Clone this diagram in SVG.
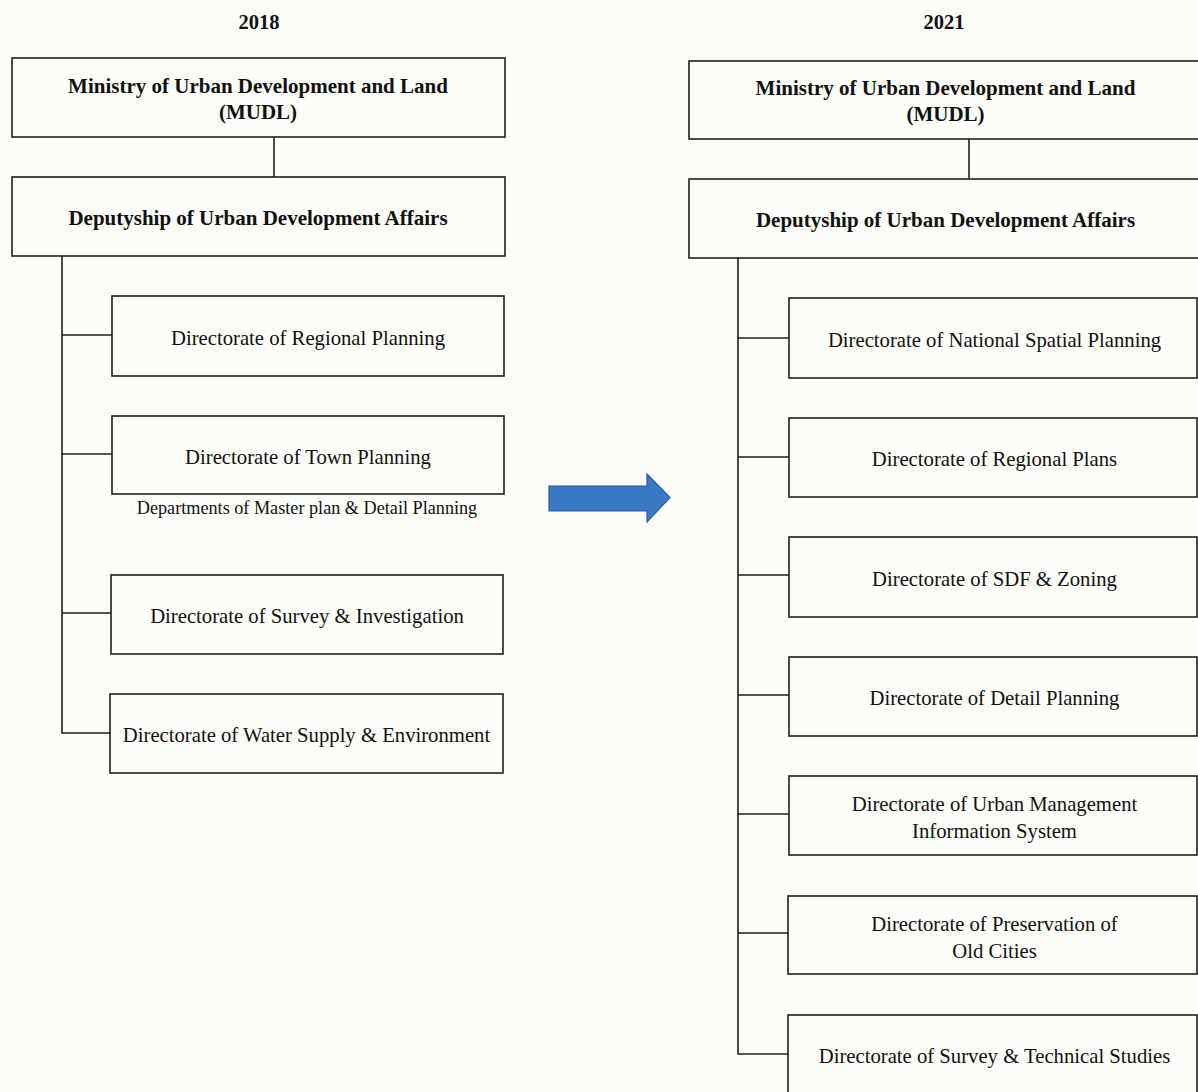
<svg xmlns="http://www.w3.org/2000/svg" width="1198" height="1092" viewBox="0 0 1198 1092">
<style>
.box{fill:none;stroke:#1e1e1e;stroke-width:1.6}
.ln{fill:none;stroke:#1e1e1e;stroke-width:1.6}
.h{font-family:"Liberation Serif","Times New Roman",serif;font-weight:bold;font-size:21px;fill:#111;text-anchor:middle}
.t{font-family:"Liberation Serif","Times New Roman",serif;font-size:20.7px;fill:#111;text-anchor:middle}
.s{font-family:"Liberation Serif","Times New Roman",serif;font-size:18.2px;fill:#111;text-anchor:middle}
</style>
<rect x="0" y="0" width="1198" height="1092" fill="#fcfcf8"/>
<text class="h" x="259" y="29" style="font-size:20.5px">2018</text>
<text class="h" x="944" y="29" style="font-size:20.5px">2021</text>
<g id="connectors">
<line class="ln" x1="274" y1="137" x2="274" y2="177"/>
<polyline class="ln" points="62,256 62,733 111,733"/>
<line class="ln" x1="62" y1="335" x2="112" y2="335"/>
<line class="ln" x1="62" y1="454" x2="112" y2="454"/>
<line class="ln" x1="62" y1="613" x2="111" y2="613"/>
<line class="ln" x1="969" y1="139" x2="969" y2="179"/>
<polyline class="ln" points="738,258 738,1054 789,1054"/>
<line class="ln" x1="738" y1="338" x2="789" y2="338"/>
<line class="ln" x1="738" y1="457" x2="789" y2="457"/>
<line class="ln" x1="738" y1="575" x2="789" y2="575"/>
<line class="ln" x1="738" y1="695" x2="789" y2="695"/>
<line class="ln" x1="738" y1="814" x2="789" y2="814"/>
<line class="ln" x1="738" y1="933" x2="789" y2="933"/>
</g>
<g id="arrow">
<polygon points="549,486 647,486 647,474 670,497.5 647,522 647,511 549,511" fill="#3b79c3" stroke="#2b5d9c" stroke-width="1.2"/>
</g>
<g id="l-mudl"><rect class="box" x="12" y="58" width="493" height="79"/>
<text class="h" x="258" y="93">Ministry of Urban Development and Land</text>
<text class="h" x="258" y="119">(MUDL)</text></g>
<g id="l-deputy"><rect class="box" x="12" y="177" width="493" height="79"/>
<text class="h" x="258" y="225">Deputyship of Urban Development Affairs</text></g>
<g id="l-regional"><rect class="box" x="112" y="296" width="392" height="80"/>
<text class="t" x="308" y="345">Directorate of Regional Planning</text></g>
<g id="l-town"><rect class="box" x="112" y="416" width="392" height="78"/>
<text class="t" x="308" y="464">Directorate of Town Planning</text>
<text class="s" x="307" y="514">Departments of Master plan &amp; Detail Planning</text></g>
<g id="l-survey"><rect class="box" x="111" y="575" width="392" height="79"/>
<text class="t" x="307" y="623">Directorate of Survey &amp; Investigation</text></g>
<g id="l-water"><rect class="box" x="110" y="694" width="393" height="79"/>
<text class="t" x="306.5" y="742">Directorate of Water Supply &amp; Environment</text></g>
<g id="r-mudl"><rect class="box" x="689" y="61" width="520" height="78"/>
<text class="h" x="945.5" y="95">Ministry of Urban Development and Land</text>
<text class="h" x="945.5" y="121">(MUDL)</text></g>
<g id="r-deputy"><rect class="box" x="689" y="179" width="520" height="79"/>
<text class="h" x="945.5" y="227">Deputyship of Urban Development Affairs</text></g>
<g id="r-nsp"><rect class="box" x="789" y="298" width="408" height="80"/>
<text class="t" x="994.5" y="347">Directorate of National Spatial Planning</text></g>
<g id="r-regional"><rect class="box" x="789" y="418" width="408" height="79"/>
<text class="t" x="994.5" y="466">Directorate of Regional Plans</text></g>
<g id="r-sdf"><rect class="box" x="789" y="537" width="408" height="80"/>
<text class="t" x="994.5" y="586">Directorate of SDF &amp; Zoning</text></g>
<g id="r-detail"><rect class="box" x="789" y="657" width="408" height="79"/>
<text class="t" x="994.5" y="705">Directorate of Detail Planning</text></g>
<g id="r-umis"><rect class="box" x="789" y="776" width="408" height="79"/>
<text class="t" x="994.5" y="811">Directorate of Urban Management</text>
<text class="t" x="994.5" y="838">Information System</text></g>
<g id="r-pres"><rect class="box" x="788" y="896" width="409" height="78"/>
<text class="t" x="994.5" y="931">Directorate of Preservation of</text>
<text class="t" x="994.5" y="958">Old Cities</text></g>
<g id="r-survey"><rect class="box" x="788" y="1015" width="409" height="80"/>
<text class="t" x="994.5" y="1063">Directorate of Survey &amp; Technical Studies</text></g>
</svg>
